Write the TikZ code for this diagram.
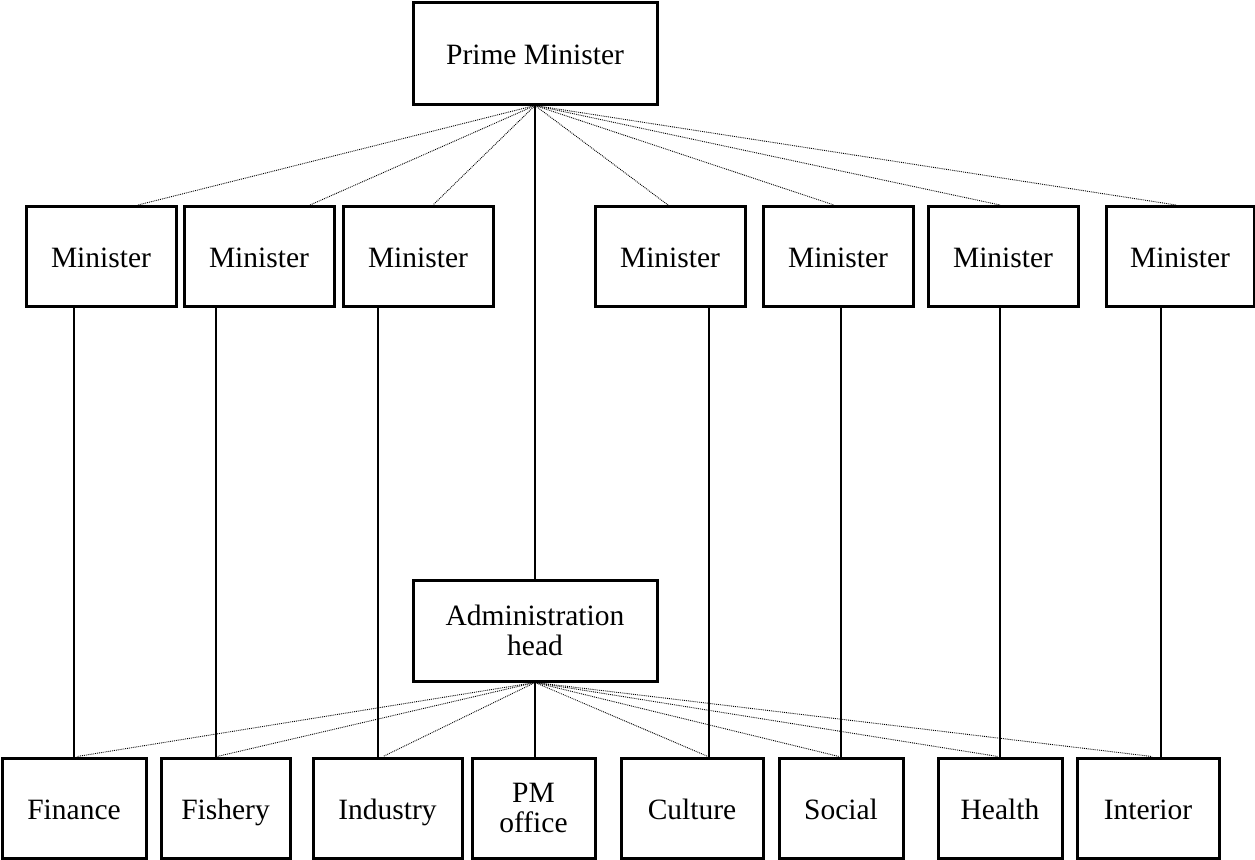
\documentclass[tikz,border=0pt]{standalone}
\usepackage{fontspec}
\setmainfont{Liberation Serif}
\begin{document}
\begin{tikzpicture}[x=1pt,y=-1pt,
  box/.style={draw=black,line width=3pt,fill=white,inner sep=0pt,align=center,
    font=\fontsize{29.5}{30}\selectfont},
  oneline/.style={box,text height=24pt,text depth=2pt},
  solidline/.style={draw=black,line width=1.2pt},
  dotline/.style={draw=black,line width=0.9pt,densely dotted}]
\useasboundingbox (0,0) rectangle (1255,859);
% top
\node[oneline,minimum width=244pt,minimum height=101pt] (pm) at (535,53.5) {Prime Minister};
% ministers
\foreach \n/\x/\w in {m1/101/150,m2/259/150,m3/418/150,m4/670/150,m5/838/150,m6/1003/150,m7/1180/148}
  \node[oneline,minimum width=\w pt,minimum height=100pt] (\n) at (\x,256.5) {Minister};
% admin
\node[box,minimum width=244pt,minimum height=101pt] (ad) at (535,630.5) {Administration\\head};
% bottom
\node[oneline,minimum width=144pt,minimum height=100pt] (b1) at (74,808) {Finance};
\node[oneline,minimum width=129pt,minimum height=100pt] (b2) at (225.5,808) {Fishery};
\node[oneline,minimum width=149pt,minimum height=100pt] (b3) at (387.5,808) {Industry};
\node[box,minimum width=123pt,minimum height=100pt] (b4) at (533.5,808) {PM\\office};
\node[oneline,minimum width=142pt,minimum height=100pt] (b5) at (692,808) {Culture};
\node[oneline,minimum width=124pt,minimum height=100pt] (b6) at (841,808) {Social};
\node[oneline,minimum width=124pt,minimum height=100pt] (b7) at (1000,808) {Health};
\node[oneline,minimum width=142pt,minimum height=100pt] (b8) at (1148,808) {Interior};
% PM to ministers (dotted)
\foreach \n/\x in {m1/138,m2/310,m3/433,m4/668,m5/834,m6/1000,m7/1176}
  \draw[dotline] (pm.south) -- (\n.north -| \x,0);
% PM to admin
\draw[solidline] (pm.south) -- (ad.north);
\draw[solidline] (ad.south) -- (b4.north -| ad.south);
% ministers to departments (solid)
\foreach \m/\b/\x in {m1/b1/74,m2/b2/216,m3/b3/378,m4/b5/709,m5/b6/841,m6/b7/1000,m7/b8/1161}
  \draw[solidline] (\m.south -| \x,0) -- (\b.north -| \x,0);
% admin to departments (dotted)
\foreach \b/\x in {b1/77,b2/217,b3/383,b5/708,b6/839,b7/998,b8/1152}
  \draw[dotline] (ad.south) -- (\b.north -| \x,0);
\end{tikzpicture}
\end{document}
